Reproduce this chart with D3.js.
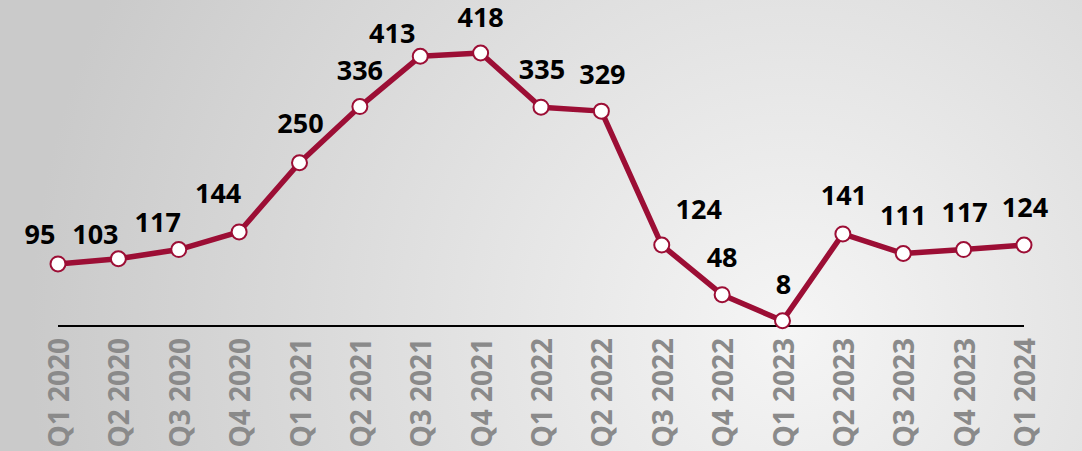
<!DOCTYPE html>
<html>
<head>
<meta charset="utf-8">
<script src="https://cdn.jsdelivr.net/npm/d3@7"></script>
<style>
	html, body { margin: 0; padding: 0; overflow: hidden; }
	svg { display: block; }
</style>
</head>
<body>
<script>
// Quarterly line chart
const width = 1082;
const height = 451;
const margin = {top: 53, right: 58, bottom: 125, left: 58};

const quarters = ['Q1 2020', 'Q2 2020', 'Q3 2020', 'Q4 2020', 'Q1 2021', 'Q2 2021', 'Q3 2021', 'Q4 2021',
	'Q1 2022', 'Q2 2022', 'Q3 2022', 'Q4 2022', 'Q1 2023', 'Q2 2023', 'Q3 2023', 'Q4 2023', 'Q1 2024'];
const values = [95, 103, 117, 144, 250, 336, 413, 418, 335, 329, 124, 48, 8, 141, 111, 117, 124];

// label nudges (dx, dy of text baseline from the point)
const labelDx = [-18, -23, -21, -21, 1, 0, -28, 0, 1, 1, 37, 0, 1, 1, 0, 1, 1];
const labelDy = [-20, -15, -18, -29, -30, -27, -13, -26, -28, -27, -26, -28, -27, -29, -29, -28, -28];

const lineColor = '#9c0e35';

const svg = d3.select('body')
	.append('svg')
	.attr('width', width)
	.attr('height', height);

// brushed silver background
const defs = svg.append('defs');
const grad = defs.append('radialGradient')
	.attr('id', 'bg')
	.attr('gradientUnits', 'userSpaceOnUse')
	.attr('cx', 790).attr('cy', 330).attr('r', 760);
grad.append('stop').attr('offset', '0%').attr('stop-color', '#f5f5f5');
grad.append('stop').attr('offset', '35%').attr('stop-color', '#e6e6e6');
grad.append('stop').attr('offset', '100%').attr('stop-color', '#cacaca');

svg.append('rect')
	.attr('width', width).attr('height', height)
	.attr('fill', 'url(#bg)');

let xScale = d3.scalePoint()
	.domain(quarters)
	.range([margin.left, width - margin.right]);

let yScale = d3.scaleLinear()
	.domain([0, d3.max(values)])
	.range([height - margin.bottom, margin.top]);

// baseline
svg.append('g')
	.attr('transform', `translate(0, ${yScale(0)})`)
	.call(d3.axisBottom(xScale).tickSize(0).tickFormat(''))
	.call(g => g.select('.domain')
		.attr('d', `M${margin.left},0H${width - margin.right}`)
		.attr('stroke', '#000')
		.attr('stroke-width', 2));

// rotated quarter labels
svg.append('g')
	.selectAll('text')
	.data(quarters)
	.join('text')
	.attr('transform', d => `translate(${xScale(d) + 1}, ${yScale(0) + 12}) rotate(-90)`)
	.attr('text-anchor', 'end')
	.attr('dy', '0.36em')
	.attr('font-family', '"Open Sans", sans-serif')
	.attr('font-weight', 700)
	.attr('font-size', '28px')
	.attr('fill', '#8a8a8a')
	.text(d => d);

let line = d3.line()
	.x((d, i) => xScale(quarters[i]))
	.y(d => yScale(d));

svg.append('path')
	.attr('d', line(values))
	.attr('fill', 'none')
	.attr('stroke', lineColor)
	.attr('stroke-width', 5.5)
	.attr('stroke-linejoin', 'round');

svg.append('g')
	.selectAll('circle')
	.data(values)
	.join('circle')
	.attr('cx', (d, i) => xScale(quarters[i]))
	.attr('cy', d => yScale(d))
	.attr('r', 7.5)
	.attr('fill', '#fff')
	.attr('stroke', lineColor)
	.attr('stroke-width', 2);

svg.append('g')
	.selectAll('text')
	.data(values)
	.join('text')
	.attr('x', (d, i) => xScale(quarters[i]) + labelDx[i])
	.attr('y', (d, i) => yScale(d) + labelDy[i])
	.attr('text-anchor', 'middle')
	.attr('font-family', '"Open Sans", sans-serif')
	.attr('font-weight', 700)
	.attr('font-size', '27px')
	.attr('fill', '#000')
	.text(d => d);
</script>
</body>
</html>
